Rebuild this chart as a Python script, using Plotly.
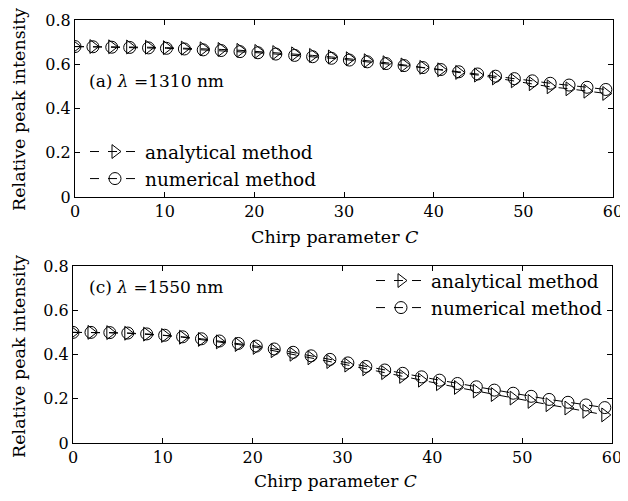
import plotly.graph_objects as go

# ---- data ----
chirp = [0, 2.0, 4.1, 6.1, 8.2, 10.2, 12.2, 14.3, 16.3, 18.4, 20.4, 22.4, 24.5, 26.5, 28.6,
         30.6, 32.6, 34.7, 36.7, 38.8, 40.8, 42.8, 44.9, 46.9, 49.0, 51.0, 53.0, 55.1, 57.1, 59.2]

a_1310_analytical = [0.680, 0.680, 0.679, 0.678, 0.677, 0.675, 0.673, 0.670, 0.667, 0.663,
                     0.658, 0.653, 0.647, 0.640, 0.633, 0.625, 0.616, 0.607, 0.597, 0.586,
                     0.575, 0.563, 0.551, 0.538, 0.525, 0.512, 0.498, 0.489, 0.478, 0.468]
a_1310_numerical = [0.680, 0.679, 0.677, 0.676, 0.674, 0.672, 0.669, 0.665, 0.662, 0.657,
                    0.652, 0.646, 0.640, 0.634, 0.627, 0.619, 0.611, 0.603, 0.594, 0.585,
                    0.576, 0.566, 0.556, 0.546, 0.535, 0.525, 0.514, 0.506, 0.496, 0.486]

c_1550_analytical = [0.500, 0.500, 0.499, 0.496, 0.492, 0.486, 0.478, 0.468, 0.457, 0.445,
                     0.432, 0.417, 0.401, 0.385, 0.368, 0.352, 0.335, 0.318, 0.301, 0.284,
                     0.268, 0.251, 0.235, 0.219, 0.203, 0.188, 0.173, 0.158, 0.143, 0.127]
c_1550_numerical = [0.500, 0.500, 0.499, 0.497, 0.493, 0.487, 0.480, 0.471, 0.461, 0.450,
                    0.438, 0.425, 0.410, 0.394, 0.378, 0.362, 0.346, 0.330, 0.315, 0.299,
                    0.284, 0.269, 0.254, 0.239, 0.225, 0.211, 0.197, 0.184, 0.172, 0.160]

x_ticks = [0, 10, 20, 30, 40, 50, 60]
y_ticks = [0, 0.2, 0.4, 0.6, 0.8]
y_tick_text = ["0", "0.2", "0.4", "0.6", "0.8"]
series_names = ["analytical method", "numerical method"]

FONT = "DejaVu Serif"
# the page body has an 8px margin, so the figure starts 8px in from the top-left corner
OFF = 8
W, H = 628 - OFF, 501 - 2 * OFF

fig = go.Figure()

def add_pair(xa, ya, legend, analytical, numerical):
    fig.add_trace(go.Scatter(
        x=chirp, y=analytical, xaxis=xa, yaxis=ya, legend=legend,
        name=series_names[0], mode="lines+markers",
        line=dict(color="black", width=1, dash="dash"),
        marker=dict(symbol="triangle-right-open", size=12, color="black",
                    line=dict(width=1, color="black"))))
    fig.add_trace(go.Scatter(
        x=chirp, y=numerical, xaxis=xa, yaxis=ya, legend=legend,
        name=series_names[1], mode="lines+markers",
        line=dict(color="black", width=1, dash="dash"),
        marker=dict(symbol="circle-open", size=12, color="black",
                    line=dict(width=1, color="black"))))

add_pair("x", "y", "legend", a_1310_analytical, a_1310_numerical)
add_pair("x2", "y2", "legend2", c_1550_analytical, c_1550_numerical)

axis_common = dict(showline=True, linecolor="black", linewidth=1, mirror="ticks",
                   ticks="inside", ticklen=5, tickcolor="black", showgrid=False,
                   zeroline=False, automargin=False, ticklabeloverflow="allow",
                   tickfont=dict(family=FONT, size=16, color="black"))

def px_x(p):  # page pixel -> paper fraction
    return (p - OFF) / W

def px_y(p):
    return 1 - (p - OFF) / H

fig.update_layout(
    width=W, height=H,
    margin=dict(l=0, r=0, t=0, b=0),
    paper_bgcolor="white", plot_bgcolor="white",
    font=dict(family=FONT, color="black"),
    xaxis=dict(domain=[px_x(75), px_x(613)], range=[0, 60], tickvals=x_ticks, anchor="y", **axis_common),
    yaxis=dict(domain=[px_y(197), px_y(20)], range=[0, 0.8], tickvals=y_ticks, ticktext=y_tick_text,
               anchor="x", **axis_common),
    xaxis2=dict(domain=[px_x(73), px_x(612)], range=[0, 60], tickvals=x_ticks, anchor="y2", **axis_common),
    yaxis2=dict(domain=[px_y(443), px_y(266)], range=[0, 0.8], tickvals=y_ticks, ticktext=y_tick_text,
                anchor="x2", **axis_common),
    legend=dict(x=px_x(85), y=px_y(133), xanchor="left", yanchor="top", bgcolor="rgba(0,0,0,0)",
                font=dict(family=FONT, size=18.5), tracegroupgap=0, itemwidth=50),
    legend2=dict(x=px_x(371), y=px_y(262), xanchor="left", yanchor="top", bgcolor="rgba(0,0,0,0)",
                 font=dict(family=FONT, size=18.5), tracegroupgap=0, itemwidth=50),
    showlegend=True,
)

annotations = [
    dict(text="(a) <i>λ</i> =1310 nm", x=px_x(87), y=px_y(81), xref="paper", yref="paper",
         xanchor="left", yanchor="middle", showarrow=False, font=dict(family=FONT, size=17)),
    dict(text="(c) <i>λ</i> =1550 nm", x=px_x(87), y=px_y(287), xref="paper", yref="paper",
         xanchor="left", yanchor="middle", showarrow=False, font=dict(family=FONT, size=17)),
    dict(text="Chirp parameter <i>C</i>", x=px_x(335), y=px_y(237), xref="paper", yref="paper",
         xanchor="center", yanchor="middle", showarrow=False, font=dict(family=FONT, size=17.5)),
    dict(text="Chirp parameter <i>C</i>", x=px_x(335), y=0, xref="paper", yref="paper",
         xanchor="center", yanchor="bottom", showarrow=False, font=dict(family=FONT, size=17)),
    dict(text="Relative peak intensity", x=px_x(19), y=px_y(110), xref="paper", yref="paper",
         xanchor="center", yanchor="middle", textangle=-90, showarrow=False,
         font=dict(family=FONT, size=17.5)),
    dict(text="Relative peak intensity", x=px_x(19), y=px_y(357), xref="paper", yref="paper",
         xanchor="center", yanchor="middle", textangle=-90, showarrow=False,
         font=dict(family=FONT, size=17.5)),
]
fig.update_layout(annotations=annotations)

fig.write_html("out.html")
